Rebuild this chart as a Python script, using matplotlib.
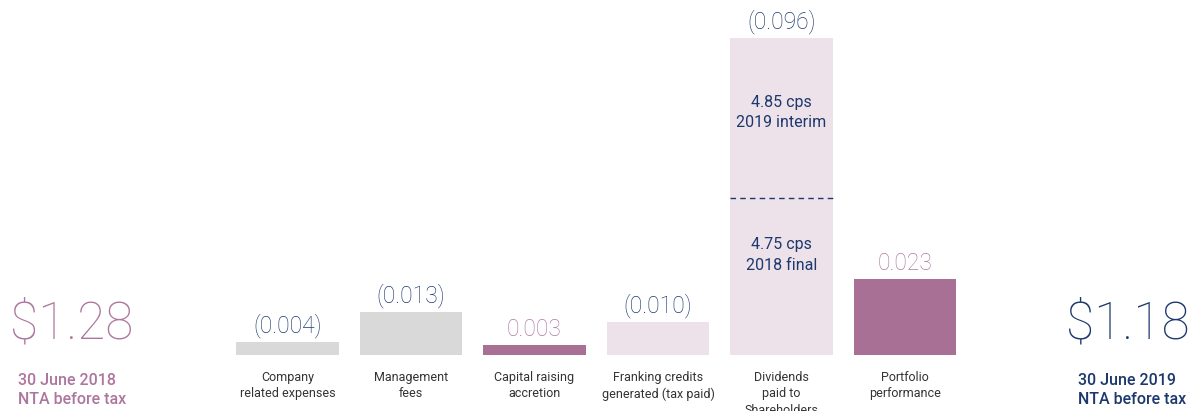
import matplotlib.pyplot as plt
from matplotlib import font_manager

# данные
categories = ["Company\nrelated expenses", "Management\nfees", "Capital raising\naccretion",
              "Franking credits\ngenerated (tax paid)", "Dividends\npaid to\nShareholders",
              "Portfolio\nperformance"]
values = [0.004, 0.013, 0.003, 0.010, 0.096, 0.023]
value_labels = ["(0.004)", "(0.013)", "0.003", "(0.010)", "(0.096)", "0.023"]
bar_colors = ["#d9d9d9", "#d9d9d9", "#a87094", "#ede2ea", "#ede2ea", "#a87094"]
label_colors = ["#1f3b6f", "#1f3b6f", "#b07aa1", "#1f3b6f", "#1f3b6f", "#b07aa1"]

dividend_parts = [0.0475, 0.0485]
dividend_texts = ["4.75 cps\n2018 final", "4.85 cps\n2019 interim"]

start_value = "$1.28"
start_label = "30 June 2018\nNTA before tax"
end_value = "$1.18"
end_label = "30 June 2019\nNTA before tax"

NAVY = "#1c386c"
PURPLE = "#ad769e"

names = {f.name for f in font_manager.fontManager.ttflist}
family = "Roboto" if "Roboto" in names else "DejaVu Sans"
plt.rcParams['font.family'] = [family, 'DejaVu Sans']

fig = plt.figure(figsize=(11.94, 4.11), dpi=100)
ax = fig.add_axes([0, 0, 1, 1])

x = list(range(len(values)))
ax.bar(x, values, width=0.834, color=bar_colors, bottom=0)

for i, (v, lab, c) in enumerate(zip(values, value_labels, label_colors)):
    ax.text(i, v + 0.0011, lab, ha='center', va='bottom', fontsize=16.5,
            color=c, fontweight='light')
    ax.text(i, -0.0048, categories[i], ha='center', va='top', fontsize=9,
            color='#333333', linespacing=1.35)

# разделитель дивидендов
di = 4
ax.hlines(dividend_parts[0], di - 0.417, di + 0.417, colors=NAVY,
          linestyles=(0, (4, 3)), lw=1)
ax.text(di, 0.0303, dividend_texts[0], ha='center', va='center', fontsize=11.5,
        color=NAVY, linespacing=1.45)
ax.text(di, 0.0735, dividend_texts[1], ha='center', va='center', fontsize=11.5,
        color=NAVY, linespacing=1.45)

# начальное и конечное значение
ax.text(-2.25, 0.0092, start_value, ha='left', va='center', fontsize=37,
        color=PURPLE, fontweight='light')
ax.text(-2.18, -0.0106, start_label, ha='left', va='center', fontsize=11.5,
        color=PURPLE, fontweight='medium', linespacing=1.35)
ax.text(6.30, 0.0092, end_value, ha='left', va='center', fontsize=37,
        color=NAVY, fontweight='light')
ax.text(6.40, -0.0106, end_label, ha='left', va='center', fontsize=11.5,
        color=NAVY, fontweight='medium', linespacing=1.35)

ax.set_xlim(-287.5 / 123.5, (1194 - 287.5) / 123.5)
ax.set_ylim(-56 / 3302, (411 - 56) / 3302)
ax.axis('off')

fig.savefig("out.png", dpi=100)
